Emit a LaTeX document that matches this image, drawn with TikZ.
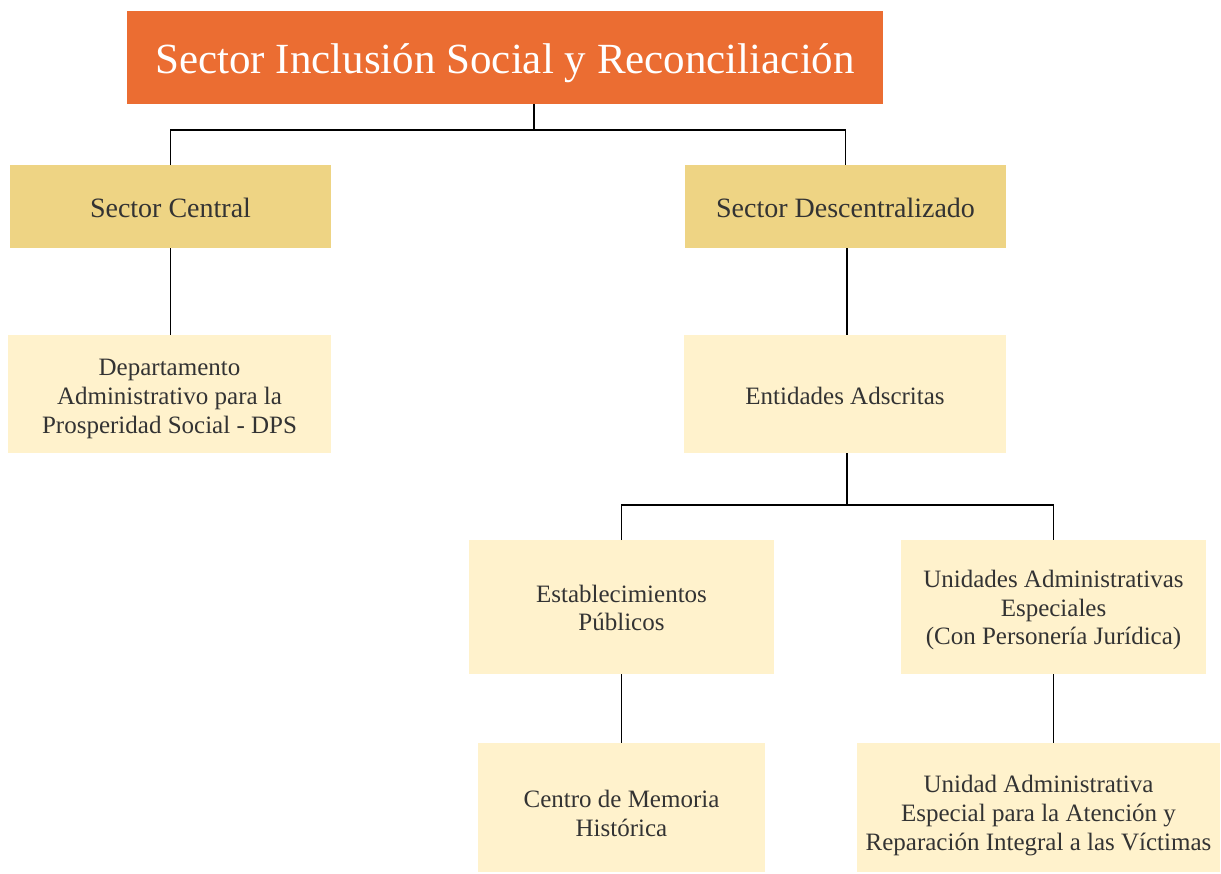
\documentclass[tikz,border=0pt]{standalone}
\usepackage{fontspec}
\setmainfont{Liberation Serif}
\definecolor{orangebox}{HTML}{EB6D32}
\definecolor{goldbox}{HTML}{EED484}
\definecolor{lightbox}{HTML}{FFF2CC}
\definecolor{txt}{HTML}{333333}
\tikzset{
  box/.style={inner sep=0pt, outer sep=0pt},
  topbox/.style={box, fill=orangebox},
  midbox/.style={box, fill=goldbox},
  leafbox/.style={box, fill=lightbox},
  toptext/.style={inner sep=0pt, align=center, text=white, font=\fontsize{43}{50}\selectfont},
  midtext/.style={inner sep=0pt, align=center, text=txt, font=\fontsize{28}{32}\selectfont},
  leaftext/.style={inner sep=0pt, align=center, text=txt, font=\fontsize{25}{28.8}\selectfont},
  conn/.style={draw=black, line width=1.3pt}
}
\begin{document}
\begin{tikzpicture}[x=1pt,y=-1pt]
\useasboundingbox (0,0) rectangle (1221,873);
\node[topbox, minimum width=756pt, minimum height=93pt] (title) at (505,57.5) {};
\node[midbox, minimum width=321pt, minimum height=83pt] (sc) at (170.5,206.5) {};
\node[midbox, minimum width=321pt, minimum height=83pt] (sd) at (845.5,206.5) {};
\node[leafbox, minimum width=323pt, minimum height=118pt] (dps) at (169.5,394) {};
\node[leafbox, minimum width=322pt, minimum height=118pt] (ent) at (845,394) {};
\node[leafbox, minimum width=305pt, minimum height=134pt] (est) at (621.5,607) {};
\node[leafbox, minimum width=305pt, minimum height=134pt] (uae) at (1053.5,607) {};
\node[leafbox, minimum width=287pt, minimum height=129pt] (cmh) at (621.5,807.5) {};
\node[leafbox, minimum width=363pt, minimum height=129pt] (uaev) at (1038.5,807.5) {};
\node[toptext] (titlet) at ([yshift=-6pt]title.center) {Sector Inclusión Social y Reconciliación};
\node[midtext] (sct) at ([yshift=-1pt]sc.center) {Sector Central};
\node[midtext] (sdt) at ([yshift=-1pt]sd.center) {Sector Descentralizado};
\node[leaftext] (dpst) at ([yshift=-5pt]dps.center) {Departamento\\Administrativo para la\\Prosperidad Social - DPS};
\node[leaftext] (entt) at ([yshift=-2pt]ent.center) {Entidades Adscritas};
\node[leaftext] (estt) at ([yshift=-1pt]est.center) {Establecimientos\\Públicos};
\node[leaftext] (uaet) at ([yshift=-3pt]uae.center) {Unidades Administrativas\\Especiales\\(Con Personería Jurídica)};
\node[leaftext] (cmht) at ([yshift=-6pt]cmh.center) {Centro de Memoria\\Histórica};
\node[leaftext] (uaevt) at ([yshift=-8pt]uaev.center) {Unidad Administrativa\\Especial para la Atención y\\Reparación Integral a las Víctimas};
\coordinate (j1) at (534,130);
\coordinate (j2) at (847,505);
\draw[conn] ([xshift=29pt]title.south) -- (j1);
\draw[conn] (sc.north) |- (j1) -| (sd.north);
\draw[conn] (sc.south) -- (dps.north -| sc.south);
\draw[conn] ([xshift=1.5pt]sd.south) -- ([xshift=2pt]ent.north);
\draw[conn] ([xshift=2pt]ent.south) -- (j2);
\draw[conn] (est.north) |- (j2) -| (uae.north);
\draw[conn] (est.south) -- (cmh.north);
\draw[conn] (uae.south) -- (uaev.north -| uae.south);
\end{tikzpicture}
\end{document}
